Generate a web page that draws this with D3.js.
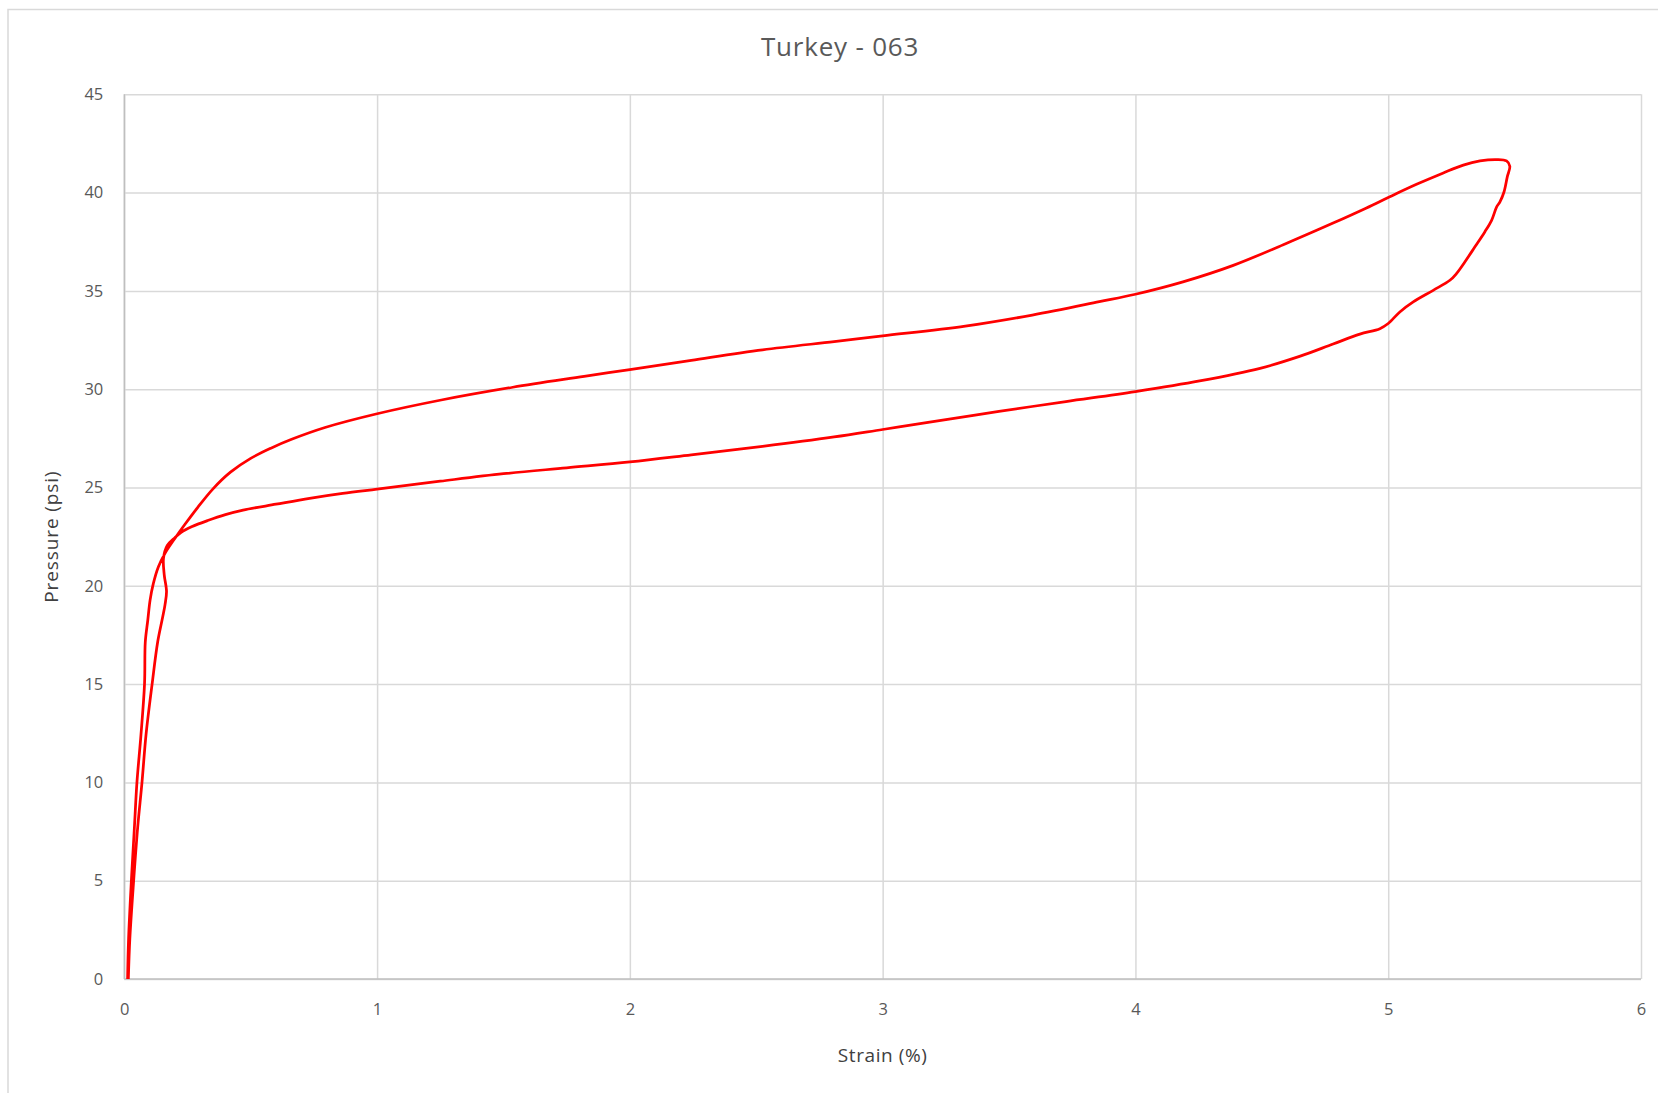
<!DOCTYPE html>
<html>
<head>
<meta charset="utf-8">
<script src="https://cdn.jsdelivr.net/npm/d3@7"></script>
<style>
  html, body { margin: 0; padding: 0; background: #fff; }
  svg { display: block; }
  text { font-family: "Open Sans", "Noto Sans", sans-serif; }
</style>
</head>
<body>
<svg id="chart" width="1658" height="1093"></svg>
<script>
// Loading branch: strain (%) and pressure (psi), in recorded order
const loadStrain = [0.013, 0.017, 0.028, 0.040, 0.050, 0.066, 0.080, 0.083, 0.093, 0.102, 0.115, 0.135, 0.161, 0.2,
  0.24, 0.29, 0.35, 0.42, 0.5, 0.58, 0.662, 0.794, 1.0, 1.254, 1.537, 1.819, 2.0, 2.243, 2.525, 2.808, 3.0,
  3.327, 3.592, 3.857, 4.0, 4.188, 4.387, 4.585, 4.782, 4.914, 5.0, 5.112, 5.218, 5.297, 5.363, 5.429, 5.468, 5.481];
const loadPressure = [0, 2.07, 5.0, 7.72, 10.0, 12.43, 15.0, 17.14, 18.26, 19.27, 20.12, 20.97, 21.65, 22.41,
  23.13, 23.98, 24.92, 25.78, 26.48, 27.0, 27.45, 28.05, 28.75, 29.45, 30.1, 30.65, 31.0, 31.47, 32.0, 32.42, 32.71,
  33.21, 33.77, 34.45, 34.83, 35.46, 36.30, 37.35, 38.45, 39.22, 39.75, 40.42, 41.0, 41.4, 41.61, 41.68, 41.61, 41.34];

// Unloading branch: back from peak strain to the origin
const unloadStrain = [5.471, 5.458, 5.442, 5.429, 5.409, 5.382, 5.343, 5.303, 5.27, 5.244, 5.178, 5.099, 5.046, 5.0, 4.967,
  4.888, 4.782, 4.652, 4.493, 4.254, 4.0, 3.725, 3.46, 3.186, 3.0, 2.808, 2.525, 2.243, 2.0, 1.75, 1.5, 1.25, 1.0,
  0.864, 0.733, 0.6, 0.47, 0.4, 0.33, 0.266, 0.225, 0.2, 0.17, 0.155, 0.158, 0.167, 0.161, 0.151, 0.132, 0.110, 0.086,
  0.070, 0.053, 0.037, 0.022, 0.016];
const unloadPressure = [40.8, 40.03, 39.53, 39.27, 38.59, 38.0, 37.24, 36.47, 35.88, 35.54, 35.03, 34.44, 33.93, 33.34, 33.08,
  32.8, 32.3, 31.68, 31.06, 30.42, 29.88, 29.37, 28.87, 28.32, 27.95, 27.57, 27.09, 26.66, 26.3, 26.0, 25.7, 25.32, 24.92,
  24.7, 24.45, 24.15, 23.85, 23.62, 23.32, 23.0, 22.72, 22.45, 22.05, 21.4, 20.56, 19.71, 19.03, 18.36, 17.14, 15.0, 12.43,
  10.0, 7.72, 5.0, 2.07, 0];

const xTicks = [0, 1, 2, 3, 4, 5, 6];
const yTicks = [0, 5, 10, 15, 20, 25, 30, 35, 40, 45];

const chartTitle = "Turkey - 063";
const xTitle = "Strain (%)";
const yTitle = "Pressure (psi)";

const svg = d3.select("#chart");
const W = 1658, H = 1093;
const plot = { left: 124.3, right: 1641, top: 94.3, bottom: 979 };

// chart area outline (extends past the canvas on the right and bottom)
svg.append("rect")
  .attr("x", 8).attr("y", 9.5)
  .attr("width", W + 20).attr("height", H + 20)
  .attr("fill", "#fff").attr("stroke", "#d9d9d9").attr("stroke-width", 1.5);

const x = d3.scaleLinear().domain([0, 6]).range([plot.left, plot.right]);
const y = d3.scaleLinear().domain([0, 45]).range([plot.bottom, plot.top]);

// vertical gridlines + x tick labels
const xAxis = svg.append("g")
  .attr("transform", `translate(0,${plot.bottom})`)
  .call(d3.axisBottom(x).tickValues(xTicks).tickFormat(d3.format("d"))
    .tickSize(-(plot.bottom - plot.top)).tickPadding(24));
xAxis.select(".domain").remove();
xAxis.selectAll("line").attr("stroke", "#d9d9d9").attr("stroke-width", 1.5);
xAxis.selectAll("text").attr("fill", "#595959").attr("font-size", 16.5)
  .attr("font-family", "'Open Sans', 'Noto Sans', sans-serif");

// horizontal gridlines + y tick labels
const yAxis = svg.append("g")
  .attr("transform", `translate(${plot.left},0)`)
  .call(d3.axisLeft(y).tickValues(yTicks).tickFormat(d3.format("d"))
    .tickSize(-(plot.right - plot.left)).tickPadding(21));
yAxis.select(".domain").remove();
yAxis.selectAll("line").attr("stroke", "#d9d9d9").attr("stroke-width", 1.5);
yAxis.selectAll("text").attr("fill", "#595959").attr("font-size", 16.5)
  .attr("font-family", "'Open Sans', 'Noto Sans', sans-serif");

// axis lines
svg.append("line")
  .attr("x1", plot.left).attr("x2", plot.right)
  .attr("y1", y(0)).attr("y2", y(0))
  .attr("stroke", "#bfbfbf").attr("stroke-width", 1.5);
svg.append("line")
  .attr("x1", x(0)).attr("x2", x(0))
  .attr("y1", plot.top).attr("y2", plot.bottom)
  .attr("stroke", "#bfbfbf").attr("stroke-width", 1.5);

// hysteresis loop
const pts = loadStrain.map((s, i) => [s, loadPressure[i]])
  .concat(unloadStrain.map((s, i) => [s, unloadPressure[i]]));
const line = d3.line()
  .x(d => x(d[0])).y(d => y(d[1]))
  .curve(d3.curveCatmullRom.alpha(0.5));
svg.append("path")
  .datum(pts)
  .attr("d", line)
  .attr("fill", "none")
  .attr("stroke", "#ff0000")
  .attr("stroke-width", 2.75)
  .attr("stroke-linejoin", "round");

// titles
svg.append("text")
  .attr("x", 840).attr("y", 49)
  .attr("text-anchor", "middle").attr("dominant-baseline", "middle")
  .attr("font-size", 26).attr("letter-spacing", 0.8).attr("fill", "#595959")
  .text(chartTitle);

svg.append("text")
  .attr("x", (plot.left + plot.right) / 2).attr("y", 1057)
  .attr("text-anchor", "middle").attr("dominant-baseline", "middle")
  .attr("font-size", 19).attr("letter-spacing", 0.6).attr("fill", "#404040")
  .text(xTitle);

svg.append("text")
  .attr("transform", `translate(53,${(plot.top + plot.bottom) / 2}) rotate(-90)`)
  .attr("text-anchor", "middle").attr("dominant-baseline", "middle")
  .attr("font-size", 19).attr("letter-spacing", 0.9).attr("fill", "#404040")
  .text(yTitle);
</script>
</body>
</html>
